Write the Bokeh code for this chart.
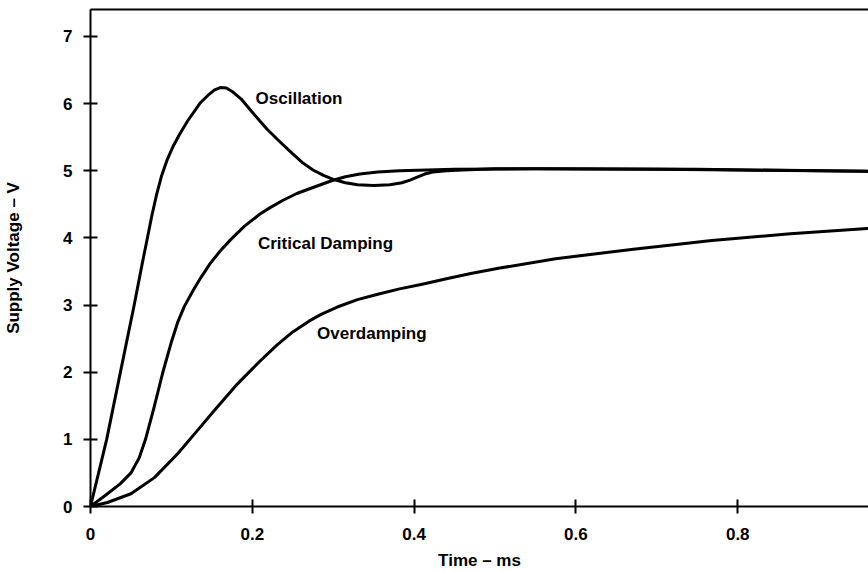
from bokeh.plotting import figure
from bokeh.models import (Range1d, FixedTicker, LinearAxis, Label,
                          CustomJSTickFormatter)
from bokeh.embed import file_html
from bokeh.resources import INLINE

# ---- data (time in ms, voltage in V) ----
osc_t = [0, 0.01, 0.02, 0.037, 0.054, 0.064, 0.07, 0.076, 0.082, 0.088, 0.095,
         0.102, 0.11, 0.12, 0.135, 0.145, 0.153, 0.161, 0.168, 0.175, 0.186,
         0.2, 0.218, 0.235, 0.25, 0.262, 0.275, 0.288, 0.3, 0.315, 0.33,
         0.35, 0.37, 0.385, 0.395, 0.403, 0.413, 0.423, 0.44, 0.46, 0.5,
         0.55, 0.7, 0.96]
osc_v = [0, 0.5, 1.0, 2.0, 3.0, 3.62, 3.98, 4.34, 4.66, 4.93, 5.17,
         5.36, 5.54, 5.74, 6.0, 6.12, 6.2, 6.24, 6.23, 6.18, 6.07,
         5.87, 5.62, 5.42, 5.25, 5.12, 5.01, 4.93, 4.87, 4.82, 4.79,
         4.78, 4.79, 4.82, 4.86, 4.9, 4.95, 4.98, 5.0, 5.01, 5.03,
         5.03, 5.02, 4.99]

crit_t = [0, 0.021, 0.037, 0.05, 0.06, 0.068, 0.078, 0.089, 0.1, 0.108,
          0.116, 0.127, 0.137, 0.148, 0.16, 0.173, 0.19, 0.209, 0.222,
          0.238, 0.255, 0.275, 0.298, 0.315, 0.333, 0.355, 0.382, 0.45,
          0.55, 0.75, 0.96]
crit_v = [0, 0.19, 0.34, 0.5, 0.72, 1.0, 1.45, 1.98, 2.45, 2.75,
          2.98, 3.22, 3.42, 3.62, 3.8, 3.97, 4.17, 4.35, 4.45,
          4.56, 4.66, 4.75, 4.85, 4.91, 4.95, 4.98, 5.0, 5.02,
          5.03, 5.02, 4.99]

over_t = [0, 0.021, 0.05, 0.079, 0.108, 0.132, 0.153, 0.182, 0.21, 0.23,
          0.25, 0.27, 0.285, 0.305, 0.33, 0.355, 0.382, 0.41, 0.44, 0.47,
          0.506, 0.575, 0.671, 0.768, 0.865, 0.96]
over_v = [0, 0.06, 0.19, 0.43, 0.79, 1.13, 1.43, 1.83, 2.17, 2.4,
          2.6, 2.76, 2.86, 2.97, 3.08, 3.16, 3.24, 3.31, 3.39, 3.47,
          3.55, 3.69, 3.83, 3.96, 4.06, 4.14]

x_ticks = [0, 0.2, 0.4, 0.6, 0.8]
y_ticks = [0, 1, 2, 3, 4, 5, 6, 7]

FONT = "Liberation Sans"
FS = "17px"

p = figure(width=868, height=572, output_backend="svg", toolbar_location=None,
           x_range=Range1d(0, 0.9616), y_range=Range1d(0, 7.4),
           min_border_left=90, min_border_right=0, min_border_top=9,
           min_border_bottom=66)
p.outline_line_color = None
p.grid.visible = False
p.background_fill_color = "white"
p.border_fill_color = "white"

for t, v in ((osc_t, osc_v), (crit_t, crit_v), (over_t, over_v)):
    p.line(t, v, line_color="black", line_width=3, line_join="round",
           line_cap="round")

# axes styling
xa = p.xaxis[0]
xa.ticker = FixedTicker(ticks=x_ticks)
xa.formatter = CustomJSTickFormatter(code="return tick == 0 ? '0' : tick.toFixed(1);")
xa.axis_label = "Time – ms"
ya = p.yaxis[0]
ya.ticker = FixedTicker(ticks=y_ticks)
ya.axis_label = "Supply Voltage – V"

for ax in (xa, ya):
    ax.axis_line_width = 2
    ax.axis_line_color = "black"
    ax.major_tick_line_width = 2
    ax.major_tick_line_color = "black"
    ax.major_tick_in = 7
    ax.major_tick_out = 7
    ax.minor_tick_line_color = None
    ax.major_label_text_font = FONT
    ax.major_label_text_font_style = "bold"
    ax.major_label_text_font_size = FS
    ax.major_label_text_color = "black"
    ax.axis_label_text_font = FONT
    ax.axis_label_text_font_style = "bold"
    ax.axis_label_text_font_size = FS
    ax.axis_label_text_color = "black"

xa.major_label_standoff = 14
xa.axis_label_standoff = 8
ya.major_label_standoff = 11
ya.axis_label_standoff = 37

# top border as an empty axis
top = LinearAxis(ticker=FixedTicker(ticks=[]), axis_line_width=2,
                 axis_line_color="black", major_tick_out=0, major_tick_in=0,
                 minor_tick_out=0, minor_tick_in=0, major_label_standoff=0,
                 major_label_text_font_size="0px")
p.add_layout(top, "above")

# curve annotations
for txt, x, y in (("Oscillation", 0.204, 6.07),
                  ("Critical Damping", 0.207, 3.91),
                  ("Overdamping", 0.28, 2.57)):
    p.add_layout(Label(x=x, y=y, text=txt, text_font=FONT,
                       text_font_style="bold", text_font_size=FS,
                       text_color="black", text_baseline="middle",
                       text_align="left"))

open("out.html", "w").write(file_html(p, INLINE))
